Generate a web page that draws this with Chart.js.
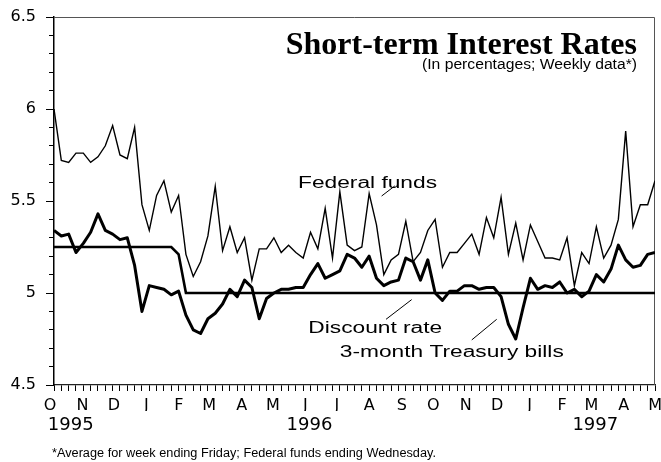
<!DOCTYPE html>
<html>
<head>
<meta charset="utf-8">
<title>Short-term Interest Rates</title>
<script src="https://cdn.jsdelivr.net/npm/chart.js@4"></script>
<style>
  html, body { margin: 0; padding: 0; background: #fff; }
  canvas { display: block; }
</style>
</head>
<body>
<canvas id="grafica_tasas" width="661" height="462"></canvas>
<script>
// Datos semanales: semana 0 = primera semana de oct 1995, semana 82 = fin de abr 1997
const fedFunds = [
  6.00, 5.72, 5.71, 5.76, 5.76, 5.71, 5.74, 5.80, 5.91, 5.75,
  5.73, 5.90, 5.48, 5.34, 5.53, 5.61, 5.44, 5.53, 5.21, 5.09,
  5.17, 5.31, 5.58, 5.23, 5.36, 5.22, 5.30, 5.07, 5.24, 5.24,
  5.30, 5.22, 5.26, 5.22, 5.19, 5.33, 5.24, 5.46, 5.19, 5.55,
  5.26, 5.23, 5.25, 5.54, 5.37, 5.10, 5.18, 5.21, 5.39, 5.17,
  5.22, 5.34, 5.40, 5.14, 5.22, 5.22, 5.27, 5.32, 5.21, 5.41,
  5.30, 5.52, 5.21, 5.38, 5.18, 5.37, 5.28, 5.19, 5.19, 5.18,
  5.30, 5.04, 5.22, 5.16, 5.36, 5.19, 5.26, 5.40, 5.88, 5.36,
  5.48, 5.48, 5.61
];
const tBills = [
  5.34, 5.31, 5.32, 5.22, 5.27, 5.33, 5.43, 5.34, 5.32, 5.29,
  5.30, 5.15, 4.90, 5.04, 5.03, 5.02, 4.99, 5.01, 4.88, 4.80,
  4.78, 4.86, 4.89, 4.94, 5.02, 4.98, 5.07, 5.03, 4.86, 4.97,
  5.00, 5.02, 5.02, 5.03, 5.03, 5.10, 5.16, 5.08, 5.10, 5.12,
  5.21, 5.19, 5.14, 5.20, 5.08, 5.04, 5.06, 5.07, 5.19, 5.17,
  5.07, 5.18, 5.00, 4.96, 5.01, 5.01, 5.04, 5.04, 5.02, 5.03,
  5.03, 4.98, 4.83, 4.75, 4.92, 5.08, 5.02, 5.04, 5.03, 5.06,
  5.00, 5.02, 4.98, 5.01, 5.10, 5.06, 5.13, 5.26, 5.18, 5.14,
  5.15, 5.21, 5.22
];
const discountRate = [
  5.25, 5.25, 5.25, 5.25, 5.25, 5.25, 5.25, 5.25, 5.25, 5.25,
  5.25, 5.25, 5.25, 5.25, 5.25, 5.25, 5.25, 5.21, 5.00, 5.00,
  5.00, 5.00, 5.00, 5.00, 5.00, 5.00, 5.00, 5.00, 5.00, 5.00,
  5.00, 5.00, 5.00, 5.00, 5.00, 5.00, 5.00, 5.00, 5.00, 5.00,
  5.00, 5.00, 5.00, 5.00, 5.00, 5.00, 5.00, 5.00, 5.00, 5.00,
  5.00, 5.00, 5.00, 5.00, 5.00, 5.00, 5.00, 5.00, 5.00, 5.00,
  5.00, 5.00, 5.00, 5.00, 5.00, 5.00, 5.00, 5.00, 5.00, 5.00,
  5.00, 5.00, 5.00, 5.00, 5.00, 5.00, 5.00, 5.00, 5.00, 5.00,
  5.00, 5.00, 5.00
];

// Etiquetas del eje x (dias contados desde el 1 de oct 1995)
const monthLetters = ['O','N','D','J','F','M','A','M','J','J','A','S','O','N','D','J','F','M','A','M'];
const monthStartDay = [0, 31, 61, 92, 123, 152, 183, 213, 244, 274, 305, 336, 366, 397, 427, 458, 489, 517, 548, 578];
const yearLabels = ['1995', '1996', '1997'];
const yearDay = [16, 244, 517];

// Rotulos de las series: texto, punto (semana, tasa), linea guia
const seriesNames = ['Federal funds', 'Discount rate', '3-month Treasury bills'];
const nameAt = [[33.3, 5.569], [34.7, 4.781], [39.0, 4.654]];
const leaderFrom = [[46.5, 5.582], [48.8, 4.964], [60.4, 4.857]];
const leaderTo = [[44.7, 5.527], [45.3, 4.857], [57.0, 4.745]];

const lastWeek = fedFunds.length - 1;
const esMayor = v => Math.abs(v * 2 - Math.round(v * 2)) < 1e-6;
const puntos = arr => arr.map((v, i) => ({x: i, y: v}));

function escribir(ctx, texto, px, py, font, align, sx)
{
	ctx.save();
	ctx.font = font;
	ctx.fillStyle = '#000';
	ctx.textAlign = align;
	ctx.textBaseline = 'alphabetic';
	ctx.translate(px, py);
	ctx.scale(sx, 1);
	ctx.fillText(texto, 0, 0);
	ctx.restore();
}

const rotulos = {
	id: 'rotulos',
	beforeDatasetsDraw(chart) {
		const ctx = chart.ctx, a = chart.chartArea;
		ctx.save();
		ctx.strokeStyle = '#555';
		ctx.lineWidth = 1;
		ctx.beginPath();
		ctx.moveTo(a.left, a.top + 0.5);
		ctx.lineTo(a.right - 0.5, a.top + 0.5);
		ctx.lineTo(a.right - 0.5, a.bottom);
		ctx.stroke();
		ctx.restore();
	},
	afterDraw(chart) {
		const ctx = chart.ctx, a = chart.chartArea;
		const sx = chart.scales.x, sy = chart.scales.y;

		escribir(ctx, 'Short-term Interest Rates', a.right - 18, a.top + 37, 'bold 32px "Liberation Serif"', 'right', 1);
		escribir(ctx, '(In percentages; Weekly data*)', a.right - 18, a.top + 52, '14px "Liberation Sans"', 'right', 1.12);

		ctx.save();
		ctx.strokeStyle = '#000';
		ctx.lineWidth = 1;
		for (let i = 0; i < seriesNames.length; i++) {
			escribir(ctx, seriesNames[i], sx.getPixelForValue(nameAt[i][0]), sy.getPixelForValue(nameAt[i][1]),
				'16px "Liberation Sans"', 'left', 1.42);
			ctx.beginPath();
			ctx.moveTo(sx.getPixelForValue(leaderFrom[i][0]), sy.getPixelForValue(leaderFrom[i][1]));
			ctx.lineTo(sx.getPixelForValue(leaderTo[i][0]), sy.getPixelForValue(leaderTo[i][1]));
			ctx.stroke();
		}
		ctx.restore();

		escribir(ctx, '*Average for week ending Friday; Federal funds ending Wednesday.', 52, chart.height - 5.5,
			'12px "Liberation Sans"', 'left', 1.06);
	}
};

new Chart(document.getElementById('grafica_tasas'), {
	type: 'line',
	data: {
		datasets: [
			{ label: 'Federal funds', data: puntos(fedFunds), borderColor: '#000', borderWidth: 1.4, pointRadius: 0, tension: 0 },
			{ label: '3-month Treasury bills', data: puntos(tBills), borderColor: '#000', borderWidth: 3, borderJoinStyle: 'round', pointRadius: 0, tension: 0 },
			{ label: 'Discount rate', data: puntos(discountRate), borderColor: '#000', borderWidth: 2.6, pointRadius: 0, tension: 0 }
		]
	},
	options: {
		responsive: false,
		animation: false,
		devicePixelRatio: 1,
		events: [],
		layout: { padding: { top: 17, right: 6, bottom: 27, left: 0 } },
		plugins: { legend: { display: false }, tooltip: { enabled: false } },
		scales: {
			x: {
				type: 'linear', min: 0, max: lastWeek, position: 'bottom', weight: 0,
				afterBuildTicks: s => { s.ticks = fedFunds.map((v, i) => ({value: i})); },
				ticks: { display: false },
				grid: { drawOnChartArea: false, tickLength: 6, tickColor: '#000', tickWidth: 1 },
				border: { display: true, color: '#222', width: 1.3 },
				afterFit: s => { s.height = 6; }
			},
			meses: {
				type: 'linear', min: 0, max: lastWeek, position: 'bottom', weight: 1,
				afterBuildTicks: s => { s.ticks = monthStartDay.map(d => ({value: d / 7})); },
				ticks: {
					autoSkip: false, maxRotation: 0, labelOffset: -4, padding: 5, color: '#000',
					font: { family: 'DejaVu Sans', size: 16 },
					callback: (v, i) => monthLetters[i]
				},
				grid: { display: false, drawTicks: false, tickLength: 0 },
				border: { display: false },
				afterFit: s => { s.height = 20; s.paddingLeft = 0; s.paddingRight = 0; }
			},
			anios: {
				type: 'linear', min: 0, max: lastWeek, position: 'bottom', weight: 2,
				afterBuildTicks: s => { s.ticks = yearDay.map(d => ({value: d / 7})); },
				ticks: {
					autoSkip: false, maxRotation: 0, padding: 4, color: '#000',
					font: { family: 'DejaVu Sans', size: 18 },
					callback: (v, i) => yearLabels[i]
				},
				grid: { display: false, drawTicks: false, tickLength: 0 },
				border: { display: false },
				afterFit: s => { s.height = 24; s.paddingLeft = 0; s.paddingRight = 0; }
			},
			y: {
				type: 'linear', min: 4.5, max: 6.5, position: 'left',
				afterBuildTicks: s => {
					const t = [];
					for (let k = 0; k <= 20; k++) t.push({value: Math.round((4.5 + k * 0.1) * 10) / 10});
					s.ticks = t;
				},
				ticks: {
					autoSkip: false, padding: 10, color: '#000',
					font: { family: 'DejaVu Sans', size: 16 },
					callback: v => esMayor(v) ? String(v) : ''
				},
				grid: {
					drawOnChartArea: false, tickLength: 8, tickColor: '#000', tickWidth: 1,
					tickBorderDash: c => esMayor(c.tick.value) ? [] : [0, 3, 5, 50]
				},
				border: { display: true, color: '#000', width: 1.5 },
				afterFit: s => { s.width = 54; s.paddingTop = 0; s.paddingBottom = 0; }
			}
		}
	},
	plugins: [rotulos]
});
</script>
</body>
</html>
